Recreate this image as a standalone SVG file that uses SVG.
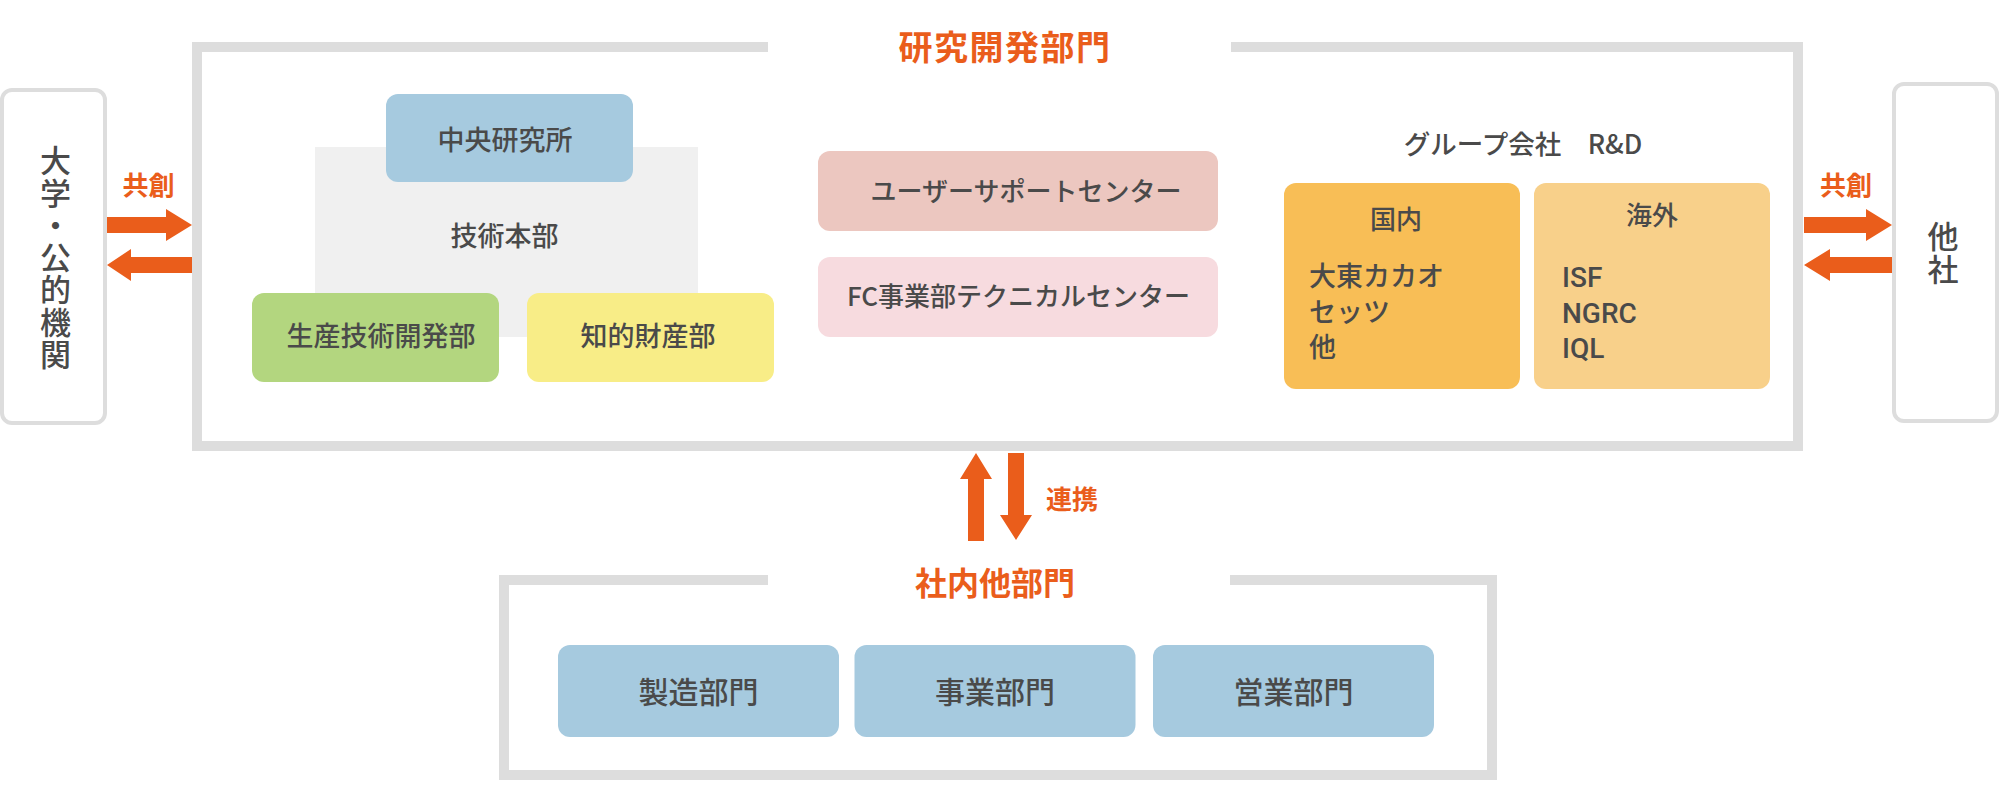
<svg xmlns="http://www.w3.org/2000/svg" width="2000" height="800" viewBox="0 0 2000 800">
<style>
text{font-family:"Noto Sans CJK JP","Noto Sans",sans-serif;fill:#4a4a4a;font-weight:500;text-anchor:middle}
.lat{font-family:"Roboto","Noto Sans CJK JP",sans-serif}
.or{fill:#ea5d1b;font-weight:700}
.frame{fill:none;stroke:#dddddd;stroke-width:10}
.side{fill:#ffffff;stroke:#dddddd;stroke-width:4}
.arr{fill:#ea5d1b}
.l{text-anchor:start}
.v{writing-mode:vertical-rl;text-orientation:upright;text-anchor:start}
</style>
<rect width="2000" height="800" fill="#ffffff"/>
<g id="rd-frame">
<path class="frame" d="M768,47 H197 V446 H1798 V47 H1231"/>
<text class="or" x="1005" y="60" font-size="34" letter-spacing="1.5">研究開発部門</text>
</g>
<g id="other-frame">
<path class="frame" d="M768,580 H504 V775 H1492 V580 H1230"/>
<text class="or" x="995" y="595" font-size="32">社内他部門</text>
</g>
<g id="univ">
<rect class="side" x="2" y="90" width="103" height="333" rx="10"/>
<text class="v" x="55.5" y="145" font-size="31" letter-spacing="1.3">大学・公的機関</text>
</g>
<g id="others">
<rect class="side" x="1894" y="84" width="103" height="337" rx="10"/>
<text class="v" x="1943" y="221" font-size="31" letter-spacing="2">他社</text>
</g>
<g id="gijutsu">
<rect x="315" y="147" width="383" height="190" fill="#f0f0f0"/>
<text x="504.5" y="246" font-size="27">技術本部</text>
</g>
<g id="chuo">
<rect x="386" y="94" width="247" height="88" rx="12" fill="#a6cadf"/>
<text x="505" y="150" font-size="27">中央研究所</text>
</g>
<g id="seisan">
<rect x="252" y="293" width="247" height="89" rx="12" fill="#b3d67f"/>
<text x="381" y="346" font-size="27">生産技術開発部</text>
</g>
<g id="chiteki">
<rect x="527" y="293" width="247" height="89" rx="12" fill="#f8ed87"/>
<text x="648" y="346" font-size="27">知的財産部</text>
</g>
<g id="user">
<rect x="818" y="151" width="400" height="80" rx="12" fill="#ecc7c0"/>
<text x="1026" y="201" font-size="26">ユーザーサポートセンター</text>
</g>
<g id="fc">
<rect x="818" y="257" width="400" height="80" rx="12" fill="#f7dbdf"/>
<text x="1018.5" y="306" font-size="26">FC事業部テクニカルセンター</text>
</g>
<g id="group">
<text x="1523" y="154" font-size="26.5">グループ会社　R&amp;D</text>
</g>
<g id="kokunai">
<rect x="1284" y="183" width="236" height="206" rx="12" fill="#f8be56"/>
<text x="1396" y="229" font-size="26">国内</text>
<text class="l" x="1309" y="286" font-size="27">大東カカオ</text>
<text class="l" x="1309" y="322" font-size="27">セッツ</text>
<text class="l" x="1309" y="357" font-size="27">他</text>
</g>
<g id="kaigai">
<rect x="1534" y="183" width="236" height="206" rx="12" fill="#f8d08a"/>
<text x="1652" y="225" font-size="26">海外</text>
<text class="l lat" x="1562" y="287" font-size="28">ISF</text>
<text class="l lat" x="1562" y="322.5" font-size="28">NGRC</text>
<text class="l lat" x="1562" y="358" font-size="28">IQL</text>
</g>
<g id="seizo">
<rect x="558" y="645" width="281" height="92" rx="12" fill="#a6cadf"/>
<text x="698.5" y="703" font-size="30">製造部門</text>
</g>
<g id="jigyo">
<rect x="854.5" y="645" width="281" height="92" rx="12" fill="#a6cadf"/>
<text x="995" y="703" font-size="30">事業部門</text>
</g>
<g id="eigyo">
<rect x="1153" y="645" width="281" height="92" rx="12" fill="#a6cadf"/>
<text x="1293.5" y="703" font-size="30">営業部門</text>
</g>
<g id="connectors">
<polygon class="arr" points="107,217 166,217 166,209 192,225 166,241 166,233 107,233"/>
<polygon class="arr" points="192,257 131,257 131,249 107,265 131,281 131,273 192,273"/>
<text class="or" x="148.5" y="195" font-size="26">共創</text>
<polygon class="arr" points="1804,217 1866,217 1866,209 1892,225 1866,241 1866,233 1804,233"/>
<polygon class="arr" points="1892,257 1830,257 1830,249 1804,265 1830,281 1830,273 1892,273"/>
<text class="or" x="1846" y="195" font-size="26">共創</text>
<polygon class="arr" points="968,541 968,479 960,479 976,453 992,479 984,479 984,541"/>
<polygon class="arr" points="1008,453 1024,453 1024,515 1032,515 1016,540 1000,515 1008,515"/>
<text class="or" x="1072" y="509" font-size="26">連携</text>
</g>
</svg>
